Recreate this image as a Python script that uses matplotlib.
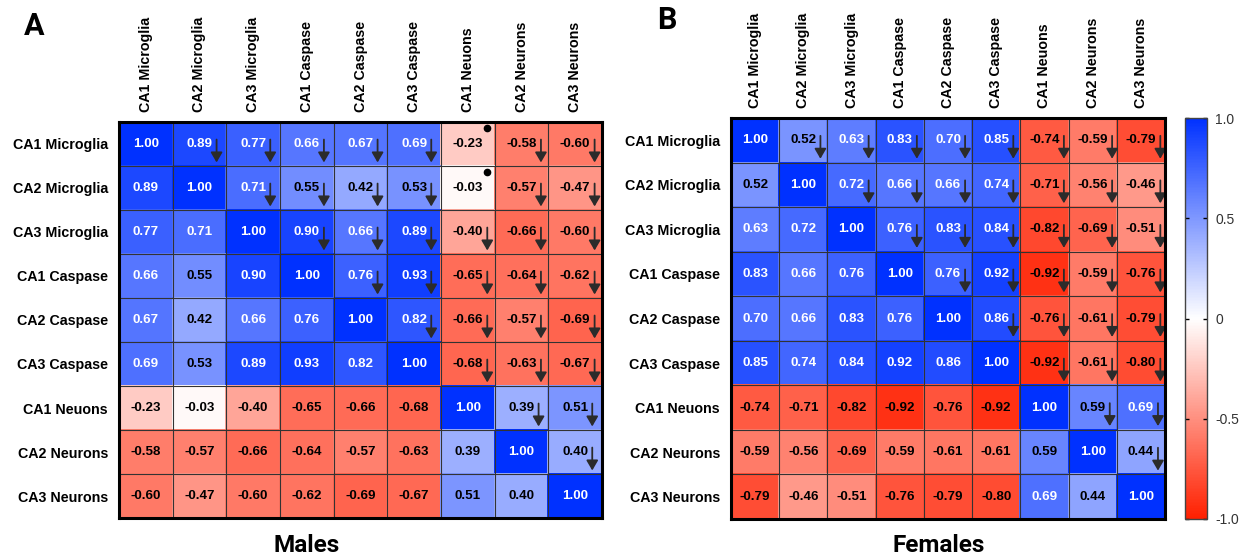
import numpy as np
import matplotlib
matplotlib.use("Agg")
import matplotlib.pyplot as plt
from matplotlib.colors import LinearSegmentedColormap
from matplotlib.transforms import offset_copy

# ---------------- data ----------------
row_labels = ["CA1 Microglia", "CA2 Microglia", "CA3 Microglia",
              "CA1 Caspase", "CA2 Caspase", "CA3 Caspase",
              "CA1 Neuons", "CA2 Neurons", "CA3 Neurons"]
col_labels = ["CA1 Microglia", "CA2 Microglia", "CA3 Microglia",
              "CA1 Caspase", "CA2 Caspase", "CA3 Caspase",
              "CA1 Neuons", "CA2 Neurons", "CA3 Neurons"]

males = [
    [1.00, 0.89, 0.77, 0.66, 0.67, 0.69, -0.23, -0.58, -0.60],
    [0.89, 1.00, 0.71, 0.55, 0.42, 0.53, -0.03, -0.57, -0.47],
    [0.77, 0.71, 1.00, 0.90, 0.66, 0.89, -0.40, -0.66, -0.60],
    [0.66, 0.55, 0.90, 1.00, 0.76, 0.93, -0.65, -0.64, -0.62],
    [0.67, 0.42, 0.66, 0.76, 1.00, 0.82, -0.66, -0.57, -0.69],
    [0.69, 0.53, 0.89, 0.93, 0.82, 1.00, -0.68, -0.63, -0.67],
    [-0.23, -0.03, -0.40, -0.65, -0.66, -0.68, 1.00, 0.39, 0.51],
    [-0.58, -0.57, -0.66, -0.64, -0.57, -0.63, 0.39, 1.00, 0.40],
    [-0.60, -0.47, -0.60, -0.62, -0.69, -0.67, 0.51, 0.40, 1.00],
]
females = [
    [1.00, 0.52, 0.63, 0.83, 0.70, 0.85, -0.74, -0.59, -0.79],
    [0.52, 1.00, 0.72, 0.66, 0.66, 0.74, -0.71, -0.56, -0.46],
    [0.63, 0.72, 1.00, 0.76, 0.83, 0.84, -0.82, -0.69, -0.51],
    [0.83, 0.66, 0.76, 1.00, 0.76, 0.92, -0.92, -0.59, -0.76],
    [0.70, 0.66, 0.83, 0.76, 1.00, 0.86, -0.76, -0.61, -0.79],
    [0.85, 0.74, 0.84, 0.92, 0.86, 1.00, -0.92, -0.61, -0.80],
    [-0.74, -0.71, -0.82, -0.92, -0.76, -0.92, 1.00, 0.59, 0.69],
    [-0.59, -0.56, -0.69, -0.59, -0.61, -0.61, 0.59, 1.00, 0.44],
    [-0.79, -0.46, -0.51, -0.76, -0.79, -0.80, 0.69, 0.44, 1.00],
]
# cells in the upper triangle marked with a dot instead of an arrow
male_dot_cells = [(0, 6), (1, 6)]
female_dot_cells = []

cbar_ticks = [-1.0, -0.5, 0, 0.5, 1.0]
cbar_ticklabels = ["-1.0", "-0.5", "0", "0.5", "1.0"]

# ---------------- style ----------------
cmap = LinearSegmentedColormap.from_list("rwb", ["#ff2000", "#ffffff", "#0031ff"])
LBL = "Liberation Sans"

fig = plt.figure(figsize=(12.45, 5.58), dpi=100)
W, H = 1245.0, 558.0


def box(l, t, r, b):
    return [l / W, 1 - b / H, (r - l) / W, (b - t) / H]


def draw(ax, vals, dots):
    m = np.array(vals)
    n = m.shape[0]
    mesh = ax.pcolormesh(np.arange(n + 1), np.arange(n + 1), m, cmap=cmap,
                         vmin=-1, vmax=1, edgecolors="face", linewidth=0.3,
                         antialiased=False)
    for k in range(1, n):
        ax.axhline(k, color="#333333", lw=0.8, zorder=2)
        ax.axvline(k, color="#333333", lw=0.8, zorder=2)
    ax.set_xlim(0, n)
    ax.set_ylim(n, 0)
    ax.set_xticks(np.arange(n) + 0.5)
    ax.set_yticks(np.arange(n) + 0.5)
    ax.set_xticklabels(col_labels, rotation=90, fontsize=10.3, fontweight="bold", family=LBL)
    ax.set_yticklabels(row_labels, fontsize=10.3, fontweight="bold", family=LBL)
    ax.xaxis.tick_top()
    ax.tick_params(axis="both", length=0)
    ax.tick_params(axis="x", pad=7)
    ax.tick_params(axis="y", pad=8)
    for s in ax.spines.values():
        s.set_linewidth(2.2)
        s.set_color("black")
        s.set_zorder(5)
    for i in range(n):
        for j in range(n):
            v = m[i, j]
            tc = "white" if v >= 0.6 else "black"
            ax.text(j + 0.5, i + 0.5, f"{v:.2f}", ha="center", va="center",
                    fontsize=9.6, fontweight="bold", family=LBL, color=tc, zorder=3)
            if j > i:
                if (i, j) in dots:
                    tr = offset_copy(ax.transData, fig=fig, x=13.5, y=11.5, units="points")
                    ax.plot(j + 0.5, i + 0.5, "o", color="black", markersize=4.5,
                            transform=tr, clip_on=False, zorder=4)
                else:
                    dx = 12.3 if v >= 0 else 14.0
                    tip = offset_copy(ax.transData, fig=fig, x=dx, y=-13.3, units="points")
                    tail = offset_copy(ax.transData, fig=fig, x=dx, y=3.2, units="points")
                    ax.annotate("", xy=(j + 0.5, i + 0.5), xycoords=tip,
                                xytext=(j + 0.5, i + 0.5), textcoords=tail,
                                arrowprops=dict(arrowstyle="-|>,head_length=0.6,head_width=0.35",
                                                color="#2b2b2b", lw=1.3, mutation_scale=10,
                                                shrinkA=0, shrinkB=0), zorder=4)
    return mesh


ax1 = fig.add_axes(box(119, 122, 602, 518))
draw(ax1, males, male_dot_cells)

ax2 = fig.add_axes(box(731, 118, 1165, 519))
mesh = draw(ax2, females, female_dot_cells)

cax = fig.add_axes(box(1185, 118, 1207, 519))
cb = fig.colorbar(mesh, cax=cax, ticks=cbar_ticks)
cb.ax.set_yticklabels(cbar_ticklabels, fontsize=10, family=LBL, color="#333333")
cb.ax.tick_params(axis="y", direction="in", length=3, width=1, color="black",
                  left=True, right=True, pad=6)
cb.outline.set_linewidth(1.0)
cb.outline.set_edgecolor("#444444")

fig.text(307 / W, 1 - 546 / H, "Males", ha="center", va="center",
         fontsize=17.5, fontweight="bold", family="Roboto")
fig.text(939 / W, 1 - 546 / H, "Females", ha="center", va="center",
         fontsize=17.5, fontweight="bold", family="Roboto")
fig.text(34 / W, 1 - 26 / H, "A", ha="center", va="center",
         fontsize=22, fontweight="bold", family="Roboto")
fig.text(667 / W, 1 - 20 / H, "B", ha="center", va="center",
         fontsize=22, fontweight="bold", family="Roboto")

fig.savefig("out.png", dpi=100)
